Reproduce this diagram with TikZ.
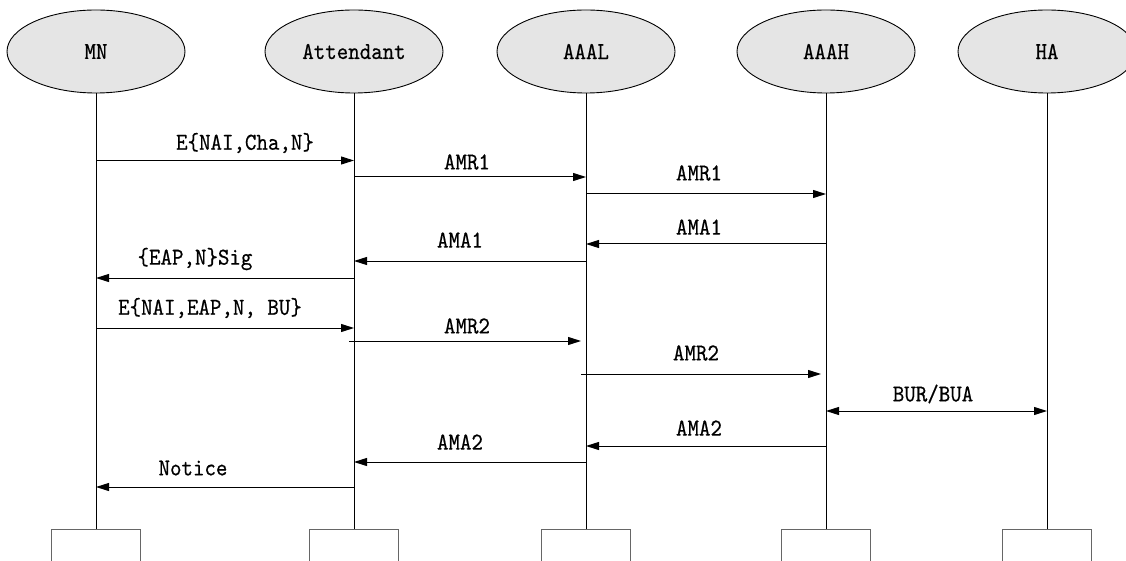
\documentclass[tikz,border=0pt]{standalone}
\usepackage{fontspec}
\newfontfamily\labfont{lmmono10-regular}[Extension=.otf,FakeStretch=0.9,FakeBold=0.5]
\usetikzlibrary{shapes.geometric,arrows.meta}
\begin{document}
\begin{tikzpicture}[x=1pt,y=-1pt,
  actor/.style={ellipse,draw=black,line width=0.9pt,fill=black!10,minimum width=178pt,minimum height=83pt,inner sep=0pt,font=\labfont\fontsize{24.3}{28}\selectfont},
  endbox/.style={rectangle,draw=black!60,line width=1.1pt,minimum width=89pt,minimum height=60pt,anchor=north,inner sep=0pt},
  life/.style={draw=black,line width=0.9pt},
  msg/.style={draw=black,line width=1pt,-{Triangle[length=13pt,width=8pt]}},
  bmsg/.style={draw=black,line width=1pt,{Triangle[length=13pt,width=8pt]}-{Triangle[length=13pt,width=8pt]}},
  lab/.style={inner sep=0pt,font=\labfont\fontsize{24.3}{28}\selectfont}]
\useasboundingbox (0,0) rectangle (1126,561);
% actors
\node[actor] (mn) at (96,51.5) {MN};
\node[actor] (att) at (354,51.5) {Attendant};
\node[actor] (aaal) at (586,51.5) {AAAL};
\node[actor] (aaah) at (826,51.5) {AAAH};
\node[actor] (ha) at (1047,51.5) {HA};
% bottom boxes
\node[endbox] (mnb) at (96,529) {};
\node[endbox] (attb) at (354,529) {};
\node[endbox] (aaalb) at (586,529) {};
\node[endbox] (aaahb) at (826,529) {};
\node[endbox] (hab) at (1047,529) {};
% lifelines
\draw[life] (mn.south) -- (mnb.north);
\draw[life] (att.south) -- (attb.north);
\draw[life] (aaal.south) -- (aaalb.north);
\draw[life] (aaah.south) -- (aaahb.north);
\draw[life] (ha.south) -- (hab.north);
% messages
\draw[msg] (mn |- 0,160.5) -- (att |- 0,160.5);
\node[lab] (l1) at (245,143) {E\{NAI,Cha,N\}};
\draw[msg] (att |- 0,177) -- (aaal |- 0,177);
\node[lab] (l2) at (467,162) {AMR1};
\draw[msg] (aaal |- 0,194) -- (aaah |- 0,194);
\node[lab] (l3) at (699,173) {AMR1};
\draw[msg] (aaah |- 0,244) -- (aaal |- 0,244);
\node[lab] (l4) at (699,227) {AMA1};
\draw[msg] (aaal |- 0,261) -- (att |- 0,261);
\node[lab] (l5) at (460,240) {AMA1};
\draw[msg] (att |- 0,278) -- (mn |- 0,278);
\node[lab] (l6) at (195,259) {\{EAP,N\}Sig};
\draw[msg] (mn |- 0,328) -- (att |- 0,328);
\node[lab] (l7) at (210,308) {E\{NAI,EAP,N, BU\}};
\coordinate (a8s) at (349,341);
\coordinate (a8e) at (581,341);
\draw[msg] (a8s) -- (a8e);
\node[lab] (l8) at (467,326) {AMR2};
\coordinate (a9s) at (581,374);
\coordinate (a9e) at (821,374);
\draw[msg] (a9s) -- (a9e);
\node[lab] (l9) at (696,353) {AMR2};
\draw[bmsg] (aaah |- 0,411) -- (ha |- 0,411);
\node[lab] (l10) at (933,394) {BUR/BUA};
\draw[msg] (aaah |- 0,446) -- (aaal |- 0,446);
\node[lab] (l11) at (699,428) {AMA2};
\draw[msg] (aaal |- 0,462) -- (att |- 0,462);
\node[lab] (l12) at (460,442) {AMA2};
\draw[msg] (att |- 0,487) -- (mn |- 0,487);
\node[lab] (l13) at (193,468) {Notice};
\end{tikzpicture}
\end{document}
